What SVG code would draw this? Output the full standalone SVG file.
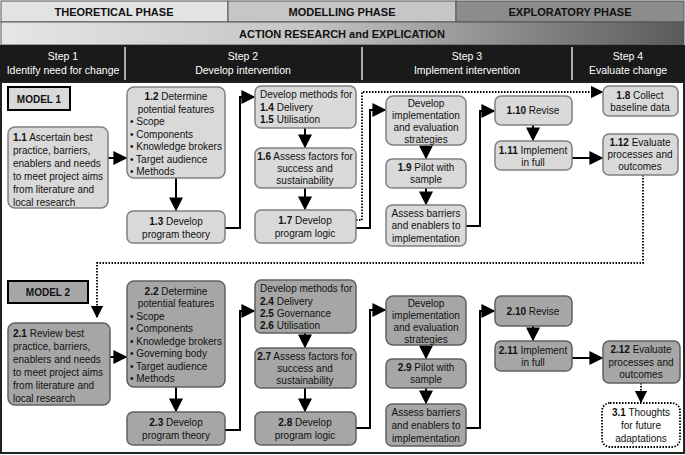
<svg xmlns="http://www.w3.org/2000/svg" width="685" height="455" viewBox="0 0 685 455">
<defs>
<linearGradient id="g" x1="0" x2="1"><stop offset="0" stop-color="#e6e6e6"/><stop offset="0.45" stop-color="#c4c4c4"/><stop offset="1" stop-color="#5a5a5a"/></linearGradient>
<marker id="a" viewBox="0 0 10 10" refX="9" refY="5" markerWidth="7" markerHeight="7" orient="auto"><path d="M0,0 L10,5 L0,10 z" fill="#000"/></marker>
</defs>
<style>
text{font-family:"Liberation Sans",Arial,sans-serif;font-size:10px;fill:#111}
.h{font-weight:bold;font-size:11px;text-anchor:middle}
.s{fill:#fff;text-anchor:middle;font-size:10.5px}
.c{text-anchor:middle}
b,.b{font-weight:bold}
.n1{fill:#d9d9d9;stroke:#808080;stroke-width:1.5}
.n2{fill:#a6a6a6;stroke:#606060;stroke-width:1.5}
.m{stroke:#000;stroke-width:2}
.l{fill:none;stroke:#000;stroke-width:2;marker-end:url(#a)}
.d{fill:none;stroke:#000;stroke-width:1.8;stroke-dasharray:1.5 1.5;marker-end:url(#a)}
</style>
<rect x="0" y="0" width="685" height="455" fill="#fff"/>
<g id="header">
<rect x="1" y="1" width="227" height="21" fill="#e3e3e3" stroke="#555"/>
<rect x="228" y="1" width="228" height="21" fill="#c6c6c6" stroke="#555"/>
<rect x="456" y="1" width="228" height="21" fill="#8c8c8c" stroke="#555"/>
<text class="h" x="114" y="16">THEORETICAL PHASE</text>
<text class="h" x="342" y="16">MODELLING PHASE</text>
<text class="h" x="570" y="16">EXPLORATORY PHASE</text>
<rect x="1" y="22" width="683" height="23" fill="url(#g)" stroke="#555"/>
<text class="h" x="342" y="38">ACTION RESEARCH and EXPLICATION</text>
<rect x="0" y="45" width="685" height="37" fill="#1a1a1a"/>
<g stroke="#ddd" stroke-width="1.5"><line x1="125" y1="47" x2="125" y2="80"/><line x1="362" y1="47" x2="362" y2="80"/><line x1="572" y1="47" x2="572" y2="80"/></g>
<text class="s" x="63" y="60">Step 1</text><text class="s" x="63" y="74">Identify need for change</text>
<text class="s" x="243" y="60">Step 2</text><text class="s" x="243" y="74">Develop intervention</text>
<text class="s" x="467" y="60">Step 3</text><text class="s" x="467" y="74">Implement  intervention</text>
<text class="s" x="628" y="60">Step 4</text><text class="s" x="628" y="74">Evaluate change</text>
</g>
<rect x="1" y="82" width="683" height="371" fill="none" stroke="#222" stroke-width="2"/>
<g id="connectors">
<path class="l" d="M108,158 H126"/>
<path class="l" d="M176,178 V210"/>
<path class="l" d="M225,228 H240 V97 H254"/>
<path class="l" d="M305,128 V147"/>
<path class="l" d="M305,188 V209"/>
<path class="l" d="M356,228 H370 V110 H385"/>
<path class="l" d="M426,145 V158"/>
<path class="l" d="M426,188 V204"/>
<path class="l" d="M466,226 H480 V111 H494"/>
<path class="l" d="M533,125 V140"/>
<path class="l" d="M572,158 H602"/>
<path class="d" d="M356,220 H362 V92 H602"/>
<path class="d" d="M643,175 V263 H97 V317"/>
<path class="l" d="M110,357 H126"/>
<path class="l" d="M176,387 V411"/>
<path class="l" d="M225,430 H240 V311 H254"/>
<path class="l" d="M305,333 V347"/>
<path class="l" d="M305,388 V411"/>
<path class="l" d="M356,428 H370 V310 H385"/>
<path class="l" d="M426,345 V358"/>
<path class="l" d="M426,388 V403"/>
<path class="l" d="M466,428 H480 V311 H494"/>
<path class="l" d="M533,326 V340"/>
<path class="l" d="M572,358 H602"/>
<path class="d" d="M641,383 V402"/>
</g>
<g id="model1"><rect class="n1 m" x="8" y="87" width="62" height="23" style="stroke:#000"/><text class="b c" x="39" y="103" font-size="11">MODEL 1</text></g>
<g id="n1_1"><rect class="n1" x="8" y="127" width="100" height="81" rx="7"/>
<text x="13" y="141"><tspan class="b">1.1</tspan>  Ascertain best</text><text x="13" y="154">practice, barriers,</text><text x="13" y="167">enablers and needs</text><text x="13" y="180">to meet project aims</text><text x="13" y="193">from literature and</text><text x="13" y="206">local research</text></g>
<g id="n1_2"><rect class="n1" x="127" y="87" width="98" height="91" rx="7"/>
<text class="c" x="176" y="100"><tspan class="b">1.2</tspan>  Determine</text><text class="c" x="176" y="113">potential features</text>
<text x="130" y="125">•  Scope</text><text x="130" y="138">• Components</text><text x="130" y="150">• Knowledge brokers</text><text x="130" y="163">• Target audience</text><text x="130" y="175">• Methods</text></g>
<g id="n1_3"><rect class="n1" x="127" y="211" width="98" height="32" rx="6"/><text class="c" x="176" y="225"><tspan class="b">1.3</tspan>  Develop</text><text class="c" x="176" y="238">program theory</text></g>
<g id="n1_4"><rect class="n1" x="255" y="86" width="101" height="42" rx="6"/><text x="260" y="98">Develop methods for</text><text x="260" y="111"><tspan class="b">1.4</tspan>  Delivery</text><text x="260" y="123"><tspan class="b">1.5</tspan>  Utilisation</text></g>
<g id="n1_6"><rect class="n1" x="255" y="148" width="101" height="40" rx="6"/><text class="c" x="305" y="160"><tspan class="b">1.6</tspan>  Assess factors for</text><text class="c" x="305" y="172">success and</text><text class="c" x="305" y="184">sustainability</text></g>
<g id="n1_7"><rect class="n1" x="255" y="210" width="101" height="33" rx="6"/><text class="c" x="305" y="224"><tspan class="b">1.7</tspan>  Develop</text><text class="c" x="305" y="237">program logic</text></g>
<g id="n1_di"><rect class="n1" x="386" y="96" width="80" height="49" rx="7"/><text class="c" x="426" y="107">Develop</text><text class="c" x="426" y="119">implementation</text><text class="c" x="426" y="131">and evaluation</text><text class="c" x="426" y="143">strategies</text></g>
<g id="n1_9"><rect class="n1" x="386" y="159" width="80" height="29" rx="6"/><text class="c" x="426" y="171"><tspan class="b">1.9</tspan>  Pilot with</text><text class="c" x="426" y="183">sample</text></g>
<g id="n1_ab"><rect class="n1" x="386" y="205" width="80" height="41" rx="6"/><text class="c" x="426" y="217">Assess barriers</text><text class="c" x="426" y="229">and enablers to</text><text class="c" x="426" y="242">implementation</text></g>
<g id="n1_10"><rect class="n1" x="495" y="96" width="77" height="29" rx="6"/><text class="c" x="533" y="114"><tspan class="b">1.10</tspan>  Revise</text></g>
<g id="n1_11"><rect class="n1" x="495" y="141" width="77" height="29" rx="6"/><text class="c" x="533" y="154"><tspan class="b">1.11</tspan>  Implement</text><text class="c" x="533" y="166">in full</text></g>
<g id="n1_8"><rect class="n1" x="603" y="86" width="75" height="30" rx="6"/><text class="c" x="640" y="99"><tspan class="b">1.8</tspan>  Collect</text><text class="c" x="640" y="111">baseline data</text></g>
<g id="n1_12"><rect class="n1" x="603" y="134" width="75" height="41" rx="6"/><text class="c" x="640" y="146"><tspan class="b">1.12</tspan>  Evaluate</text><text class="c" x="640" y="158">processes and</text><text class="c" x="640" y="170">outcomes</text></g>

<g id="model2"><rect class="n2" x="8" y="281" width="80" height="22" style="stroke:#000;stroke-width:2"/><text class="b c" x="48" y="296" font-size="11">MODEL 2</text></g>
<g id="n2_1"><rect class="n2" x="8" y="323" width="102" height="82" rx="7"/>
<text x="13" y="337"><tspan class="b">2.1</tspan>  Review best</text><text x="13" y="350">practice, barriers,</text><text x="13" y="363">enablers and needs</text><text x="13" y="376">to meet project aims</text><text x="13" y="389">from literature and</text><text x="13" y="402">local research</text></g>
<g id="n2_2"><rect class="n2" x="127" y="281" width="98" height="106" rx="7"/>
<text class="c" x="176" y="295"><tspan class="b">2.2</tspan>  Determine</text><text class="c" x="176" y="307">potential features</text>
<text x="130" y="320">•  Scope</text><text x="130" y="332">• Components</text><text x="130" y="345">• Knowledge brokers</text><text x="130" y="357">• Governing body</text><text x="130" y="370">• Target audience</text><text x="130" y="382">• Methods</text></g>
<g id="n2_3"><rect class="n2" x="127" y="412" width="98" height="33" rx="6"/><text class="c" x="176" y="426"><tspan class="b">2.3</tspan>  Develop</text><text class="c" x="176" y="439">program theory</text></g>
<g id="n2_4"><rect class="n2" x="255" y="280" width="101" height="53" rx="6"/><text x="260" y="292">Develop methods for</text><text x="260" y="305"><tspan class="b">2.4</tspan>  Delivery</text><text x="260" y="317"><tspan class="b">2.5</tspan>  Governance</text><text x="260" y="329"><tspan class="b">2.6</tspan>  Utilisation</text></g>
<g id="n2_7"><rect class="n2" x="255" y="348" width="101" height="40" rx="6"/><text class="c" x="305" y="360"><tspan class="b">2.7</tspan>  Assess factors for</text><text class="c" x="305" y="372">success and</text><text class="c" x="305" y="384">sustainability</text></g>
<g id="n2_8"><rect class="n2" x="255" y="412" width="101" height="33" rx="6"/><text class="c" x="305" y="426"><tspan class="b">2.8</tspan>  Develop</text><text class="c" x="305" y="439">program logic</text></g>
<g id="n2_di"><rect class="n2" x="386" y="296" width="80" height="49" rx="7"/><text class="c" x="426" y="307">Develop</text><text class="c" x="426" y="319">implementation</text><text class="c" x="426" y="331">and evaluation</text><text class="c" x="426" y="343">strategies</text></g>
<g id="n2_9"><rect class="n2" x="386" y="359" width="80" height="29" rx="6"/><text class="c" x="426" y="371"><tspan class="b">2.9</tspan>  Pilot with</text><text class="c" x="426" y="383">sample</text></g>
<g id="n2_ab"><rect class="n2" x="386" y="404" width="80" height="42" rx="6"/><text class="c" x="426" y="416">Assess barriers</text><text class="c" x="426" y="429">and enablers to</text><text class="c" x="426" y="442">implementation</text></g>
<g id="n2_10"><rect class="n2" x="495" y="296" width="77" height="30" rx="6"/><text class="c" x="533" y="315"><tspan class="b">2.10</tspan>  Revise</text></g>
<g id="n2_11"><rect class="n2" x="495" y="341" width="77" height="30" rx="6"/><text class="c" x="533" y="354"><tspan class="b">2.11</tspan>  Implement</text><text class="c" x="533" y="366">in full</text></g>
<g id="n2_12"><rect class="n2" x="603" y="341" width="77" height="42" rx="6"/><text class="c" x="641" y="353"><tspan class="b">2.12</tspan>  Evaluate</text><text class="c" x="641" y="366">processes and</text><text class="c" x="641" y="378">outcomes</text></g>
<g id="n3_1"><rect x="602" y="403" width="78" height="44" rx="8" fill="#fff" stroke="#000" stroke-width="1.8" stroke-dasharray="1.5 1.5"/><text class="c" x="641" y="416"><tspan class="b">3.1</tspan> Thoughts</text><text class="c" x="641" y="429">for future</text><text class="c" x="641" y="442">adaptations</text></g>
</svg>
